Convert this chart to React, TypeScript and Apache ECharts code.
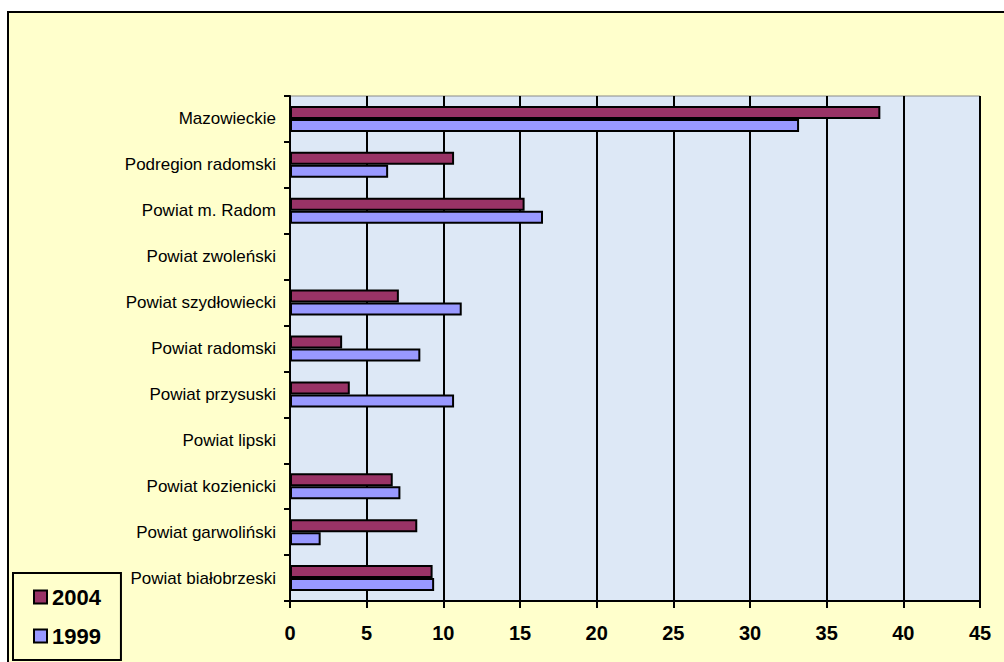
import React, { useEffect, useRef } from "react";
import * as echarts from "echarts";

const categories = [
  "Mazowieckie",
  "Podregion radomski",
  "Powiat m. Radom",
  "Powiat zwoleński",
  "Powiat szydłowiecki",
  "Powiat radomski",
  "Powiat przysuski",
  "Powiat lipski",
  "Powiat kozienicki",
  "Powiat garwoliński",
  "Powiat białobrzeski",
];

const values2004: (number | null)[] = [38.5, 10.7, 15.3, null, 7.1, 3.4, 3.9, null, 6.7, 8.3, 9.3];
const values1999: (number | null)[] = [33.2, 6.4, 16.5, null, 11.2, 8.5, 10.7, null, 7.2, 2.0, 9.4];

const seriesNames = ["2004", "1999"];
const seriesColors = ["#993366", "#9999FF"];

const FONT = "'Liberation Sans', Arial, sans-serif";

export default function App() {
  const ref = useRef<HTMLDivElement>(null);

  useEffect(() => {
    if (!ref.current) return;
    const chart = echarts.init(ref.current, undefined, { renderer: "svg" });
    const data = [values2004, values1999];
    chart.setOption({
      animation: false,
      backgroundColor: "#ffffff",
      textStyle: { fontFamily: FONT },
      graphic: [
        {
          type: "rect",
          z: -10,
          shape: { x: 8, y: 12, width: 1010, height: 670 },
          style: { fill: "#FFFFCC", stroke: "#000", lineWidth: 2 },
          silent: true,
        },
      ],
      grid: {
        left: 290,
        right: 24,
        top: 96,
        bottom: 61,
        show: true,
        backgroundColor: "#dde8f6",
        borderColor: "#8a8a8a",
        borderWidth: 1,
      },
      legend: {
        orient: "vertical",
        left: 13,
        top: 573,
        data: seriesNames,
        itemWidth: 13,
        itemHeight: 13,
        itemGap: 17,
        padding: [13, 20, 13, 20],
        borderColor: "#000",
        borderWidth: 2,
        icon: "rect",
        itemStyle: { borderColor: "#000", borderWidth: 2 },
        textStyle: { fontFamily: FONT, fontSize: 22, fontWeight: "bold", color: "#000" },
      },
      xAxis: {
        type: "value",
        min: 0,
        max: 45,
        interval: 5,
        axisLine: { show: true, lineStyle: { color: "#000", width: 2 } },
        axisTick: { show: true, length: 7, lineStyle: { color: "#000", width: 2 } },
        axisLabel: {
          fontFamily: FONT,
          fontSize: 20,
          fontWeight: "bold",
          color: "#000",
          margin: 22,
        },
        splitLine: { show: true, lineStyle: { color: "#000", width: 2 } },
      },
      yAxis: {
        type: "category",
        inverse: true,
        data: categories,
        axisLine: { show: true, lineStyle: { color: "#000", width: 2 } },
        axisTick: { show: true, length: 6, lineStyle: { color: "#000", width: 2 } },
        axisLabel: { fontFamily: FONT, fontSize: 17, color: "#000", margin: 14 },
        splitLine: { show: false },
      },
      series: seriesNames.map((name, i) => ({
        name,
        type: "bar",
        data: data[i],
        barWidth: 13,
        barGap: "0%",
        itemStyle: { color: seriesColors[i], borderColor: "#000", borderWidth: 2 },
      })),
    });
    return () => chart.dispose();
  }, []);

  return (
    <div
      ref={ref}
      style={{ position: "fixed", left: 0, top: 0, width: 1004, height: 662 }}
    />
  );
}
